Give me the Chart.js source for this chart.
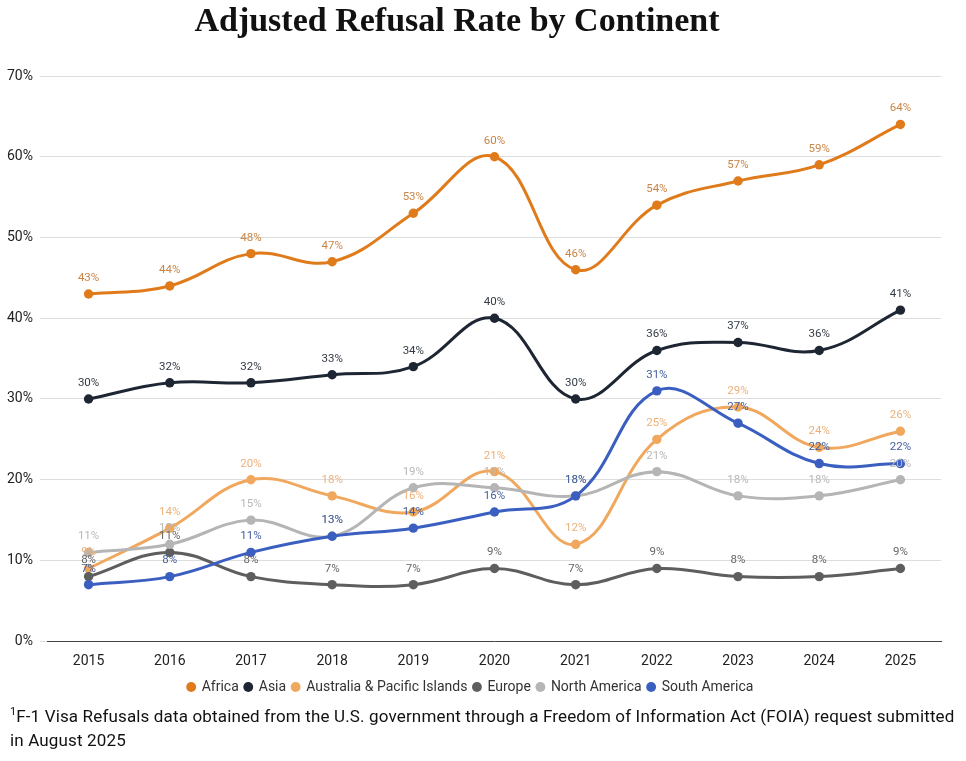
<!DOCTYPE html>
<html>
<head>
<meta charset="utf-8">
<script src="https://cdn.jsdelivr.net/npm/chart.js@4.4.1/dist/chart.umd.min.js"></script>
<style>
  body { margin: 0; background: #fff; }
  #wrap { position: relative; width: 966px; height: 706px; }
  #titulo {
    position: absolute; left: 0; top: 0; width: 914px; margin: 0;
    text-align: center;
    font-family: "Liberation Serif", "DejaVu Serif", serif;
    font-size: 34px; font-weight: bold; color: #111; line-height: 40px;
  }
  #nota {
    position: absolute; left: 10px; top: 704px; width: 956px;
    white-space: nowrap;
    font-family: Roboto, sans-serif;
    font-size: 17px;
    letter-spacing: 0.15px;
    line-height: 24px;
    color: #111;
  }
  #nota sup { font-size: 11px; vertical-align: 7px; line-height: 0; letter-spacing: 0; }
</style>
</head>
<body>
<div id="wrap"><canvas id="grafico"></canvas></div>
<h1 id="titulo">Adjusted Refusal Rate by Continent</h1>
<div id="nota"><sup>1</sup>F-1 Visa Refusals data obtained from the U.S. government through a Freedom of Information Act (FOIA) request submitted<br>in August 2025</div>
<script>
const anios = ['2015', '2016', '2017', '2018', '2019', '2020', '2021', '2022', '2023', '2024', '2025'];
const africa = [43, 44, 48, 47, 53, 60, 46, 54, 57, 59, 64];
const asia = [30, 32, 32, 33, 34, 40, 30, 36, 37, 36, 41];
const australia = [9, 14, 20, 18, 16, 21, 12, 25, 29, 24, 26];
const europa = [8, 11, 8, 7, 7, 9, 7, 9, 8, 8, 9];
const norteamerica = [11, 12, 15, 13, 19, 19, 18, 21, 18, 18, 20];
const sudamerica = [7, 8, 11, 13, 14, 16, 18, 31, 27, 22, 22];
const ticksY = [0, 10, 20, 30, 40, 50, 60, 70];

const series = [
  { label: 'Africa', data: africa, color: '#E07B1C', texto: '#C98545' },
  { label: 'Asia', data: asia, color: '#1F2633', texto: '#333a45' },
  { label: 'Australia & Pacific Islands', data: australia, color: '#F0A85E', texto: '#EDB07A' },
  { label: 'Europe', data: europa, color: '#5E5E5E', texto: '#666666' },
  { label: 'North America', data: norteamerica, color: '#B5B5B5', texto: '#B8B8B8' },
  { label: 'South America', data: sudamerica, color: '#3A5FC0', texto: '#44609F' }
];

// etiquetas encima de cada punto
const etiquetas = {
  id: 'etiquetas',
  afterDatasetsDraw(chart) {
    const ctx = chart.ctx;
    ctx.save();
    ctx.font = '11.5px Roboto, sans-serif';
    ctx.textAlign = 'center';
    ctx.textBaseline = 'middle';
    chart.data.datasets.forEach((ds, i) => {
      const meta = chart.getDatasetMeta(i);
      ctx.fillStyle = series[i].texto;
      meta.data.forEach((pt, j) => {
        ctx.fillText(ds.data[j] + '%', pt.x, pt.y - 16);
      });
    });
    ctx.restore();
  }
};

const ctx = document.getElementById('grafico').getContext('2d');
new Chart(ctx, {
  type: 'line',
  data: {
    labels: anios,
    datasets: series.map((s, i) => ({
      label: s.label,
      data: s.data,
      borderColor: s.color,
      backgroundColor: s.color,
      pointBackgroundColor: s.color,
      pointBorderColor: s.color,
      pointBorderWidth: 0,
      borderWidth: 3,
      pointRadius: 4.7,
      pointHoverRadius: 4.7,
      tension: 0.4,
      fill: false,
      order: series.length - i
    }))
  },
  options: {
    responsive: true,
    maintainAspectRatio: false,
    animation: false,
    layout: { padding: { left: 0, right: 25, top: 76, bottom: 2 } },
    plugins: {
      title: { display: false },
      legend: {
        position: 'bottom',
        labels: {
          usePointStyle: true,
          pointStyle: 'circle',
          boxWidth: 7,
          boxHeight: 7,
          padding: 6,
          color: '#333',
          font: { family: 'Roboto, sans-serif', size: 14 },
          sort: (a, b) => a.datasetIndex - b.datasetIndex
        }
      },
      tooltip: { enabled: false }
    },
    scales: {
      x: {
        offset: true,
        grid: { display: false },
        border: { display: true, color: '#444', width: 1 },
        ticks: { color: '#222', font: { family: 'Roboto, sans-serif', size: 14 }, padding: 4 }
      },
      y: {
        min: 0,
        max: 70,
        afterBuildTicks: (axis) => { axis.ticks = ticksY.map(v => ({ value: v })); },
        grid: { color: '#dddddd', lineWidth: 1 },
        border: { display: false },
        ticks: {
          color: '#222',
          font: { family: 'Roboto, sans-serif', size: 14 },
          padding: 7,
          callback: (v) => v + '%'
        }
      }
    }
  },
  plugins: [etiquetas]
});
</script>
</body>
</html>
